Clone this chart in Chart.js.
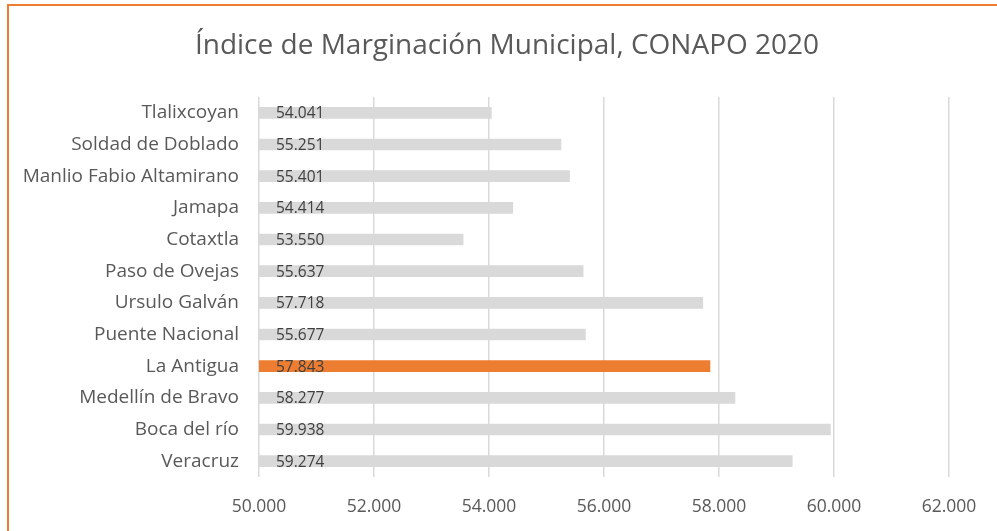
<!DOCTYPE html>
<html>
<head>
<meta charset="utf-8">
<script src="https://cdn.jsdelivr.net/npm/chart.js@4/dist/chart.umd.min.js"></script>
<style>
  html, body { margin: 0; padding: 0; background: #fff; overflow: hidden; }
  #frame {
    position: absolute; left: 7px; top: 4px;
    width: 1100px; height: 600px;
    box-sizing: border-box;
    border: 2px solid #ed7d31;
  }
  #wrap { position: absolute; left: 0; top: 0; width: 997px; height: 531px; }
</style>
</head>
<body>
<div id="frame"></div>
<div id="wrap"><canvas id="myChart"></canvas></div>
<script>
const municipios = [
  "Tlalixcoyan",
  "Soldad de Doblado",
  "Manlio Fabio Altamirano",
  "Jamapa",
  "Cotaxtla",
  "Paso de Ovejas",
  "Ursulo Galván",
  "Puente Nacional",
  "La Antigua",
  "Medellín de Bravo",
  "Boca del río",
  "Veracruz",
];
const indice = [54.041, 55.251, 55.401, 54.414, 53.55, 55.637, 57.718, 55.677, 57.843, 58.277, 59.938, 59.274];
const destacado = "La Antigua";
const ejeMin = 50;
const ejeMax = 62;
const ejePaso = 2;
const titulo = "Índice de Marginación Municipal, CONAPO 2020";

const colores = municipios.map((m) => (m === destacado ? "#ed7d31" : "#d9d9d9"));

// titulo y etiquetas de valor al inicio de cada barra
const etiquetas = {
  id: "etiquetas",
  afterDatasetsDraw(chart) {
    const ctx = chart.ctx;
    const xs = chart.scales.x;
    const meta = chart.getDatasetMeta(0);
    ctx.save();
    ctx.font = "15.5px 'Open Sans'";
    ctx.fillStyle = "#404040";
    ctx.textAlign = "left";
    ctx.textBaseline = "middle";
    meta.data.forEach((bar, i) => {
      ctx.fillText(indice[i].toFixed(3), xs.getPixelForValue(ejeMin) + 17, bar.y + 1);
    });
    ctx.font = "28px 'Open Sans'";
    ctx.fillStyle = "#595959";
    ctx.textAlign = "center";
    ctx.fillText(titulo, 507, 46);
    ctx.restore();
  },
};

const config = {
  type: "bar",
  data: {
    labels: municipios,
    datasets: [
      {
        data: indice,
        backgroundColor: colores,
        barThickness: 11,
      },
    ],
  },
  options: {
    indexAxis: "y",
    responsive: true,
    maintainAspectRatio: false,
    animation: false,
    layout: { padding: { left: 0, right: 48, top: 97, bottom: 0 } },
    scales: {
      x: {
        min: ejeMin,
        max: ejeMax,
        ticks: {
          stepSize: ejePaso,
          color: "#595959",
          font: { family: "'Open Sans'", size: 17.5 },
          padding: 20,
          callback: (v) => Number(v).toFixed(3),
        },
        grid: { color: "#d9d9d9", lineWidth: 1.5, drawTicks: false },
        border: { display: false },
        afterFit: (scale) => { scale.height = 54; },
      },
      y: {
        ticks: {
          color: "#595959",
          font: { family: "'Open Sans'", size: 19 },
          padding: 20,
        },
        grid: { display: false, drawTicks: false },
        border: { display: false },
        afterFit: (scale) => { scale.width = 259; },
      },
    },
    plugins: {
      legend: { display: false },
      tooltip: { enabled: false },
      title: { display: false },
    },
  },
  plugins: [etiquetas],
};

const myChart = new Chart(document.getElementById("myChart"), config);
</script>
</body>
</html>
